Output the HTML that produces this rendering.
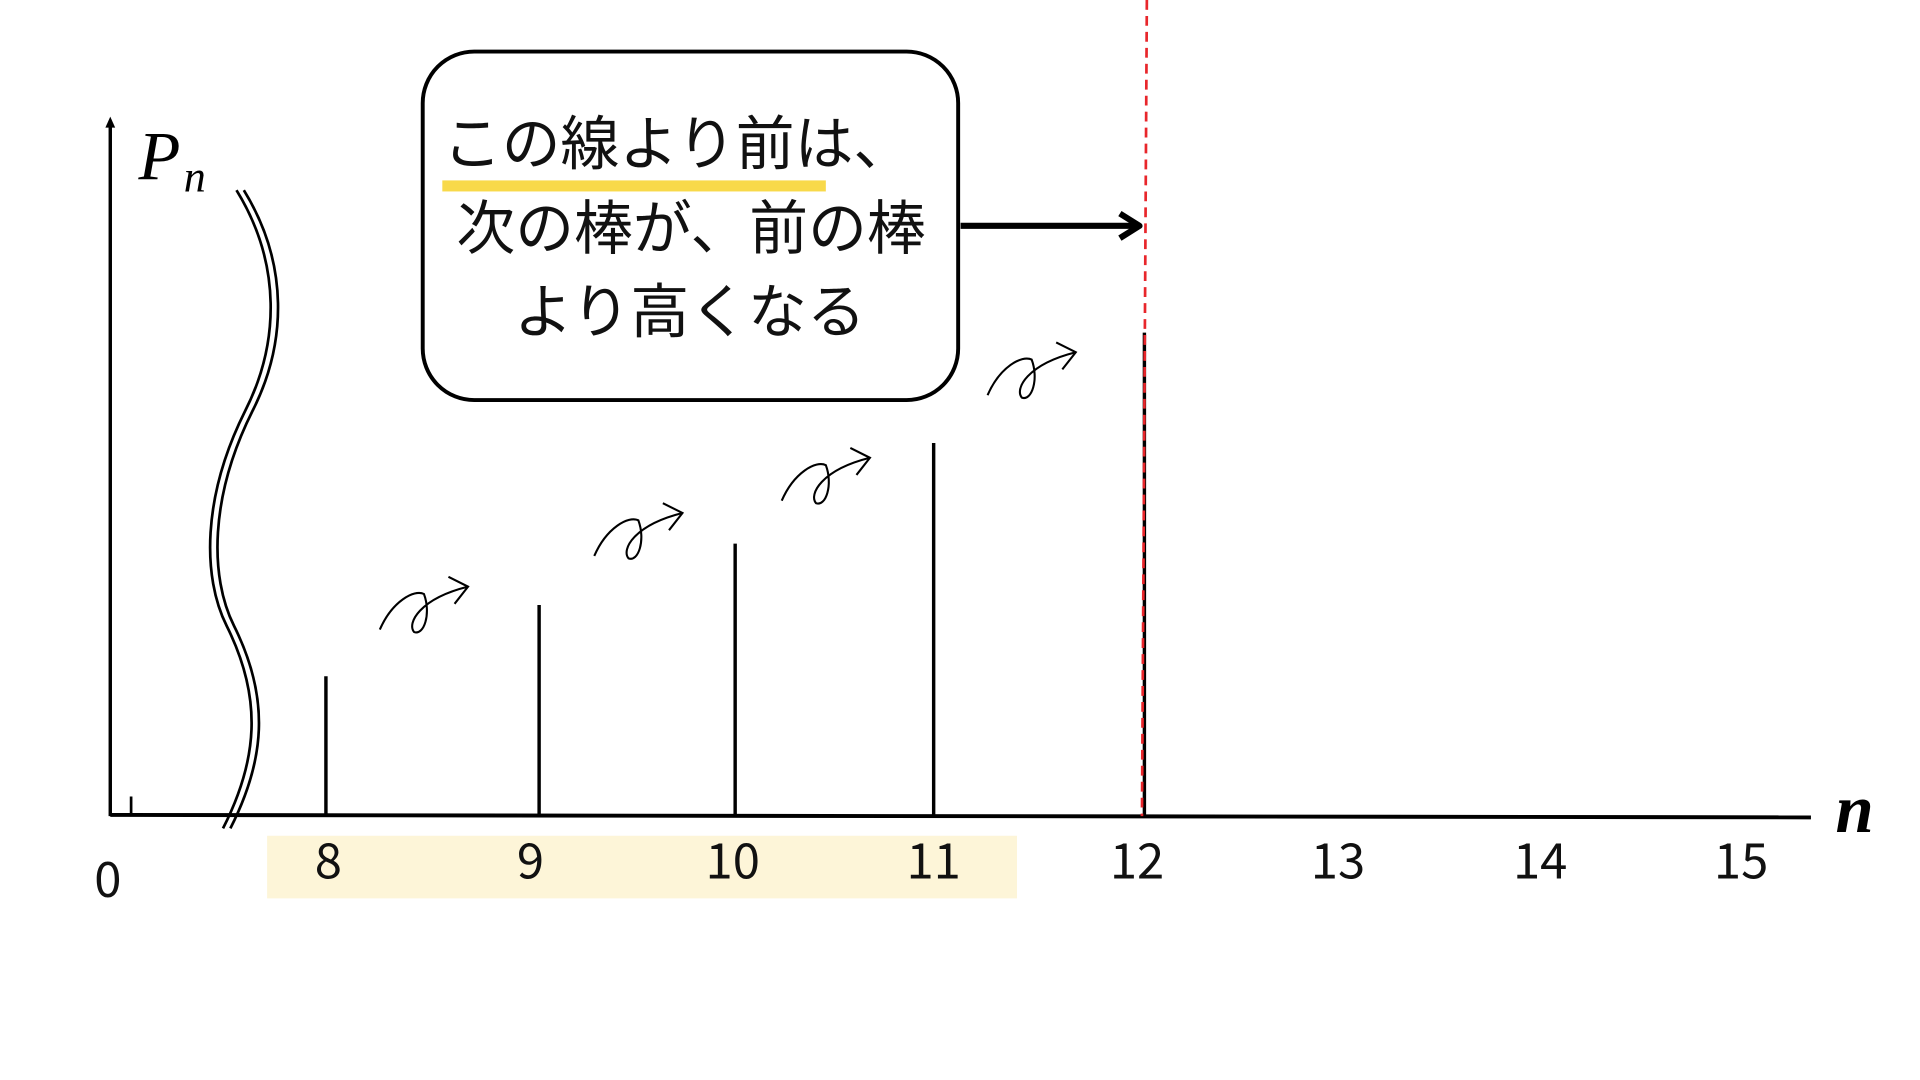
<!DOCTYPE html>
<html><head><meta charset="utf-8"><style>
html,body{margin:0;padding:0;background:#fff;}
svg{display:block;}
.j{font-family:"Liberation Sans","Noto Sans CJK JP",sans-serif;}
.n{font-family:"Noto Sans CJK JP","Liberation Sans",sans-serif;font-size:40px;fill:#111;text-anchor:middle;}
</style></head><body>
<svg width="1920" height="1080" viewBox="0 0 1567 880" preserveAspectRatio="none" xmlns="http://www.w3.org/2000/svg">
<rect x="218" y="681" width="612" height="51" fill="#fdf5d8"/>
<line x1="90" y1="665" x2="90" y2="100" stroke="#000" stroke-width="2.8"/>
<path d="M86,104 L90,95 L94,104 Z" fill="#000"/>
<line x1="90" y1="664" x2="1478" y2="666" stroke="#000" stroke-width="3.2"/>
<line x1="107" y1="664" x2="107" y2="649" stroke="#000" stroke-width="2.2"/>
<g stroke="#000" stroke-width="2.8">
<line x1="266" y1="664" x2="266" y2="551"/>
<line x1="440" y1="664" x2="440" y2="493"/>
<line x1="600" y1="664" x2="600" y2="443"/>
<line x1="762" y1="664" x2="762" y2="361"/>
<line x1="934" y1="664" x2="934" y2="271"/>
</g>
<line x1="936" y1="0" x2="932" y2="665" stroke="#e8262b" stroke-width="2.2" stroke-dasharray="8,5"/>
<g fill="none" stroke="#000" stroke-width="2.2">
<path d="M193,155 C230,215 228,280 200,335 C165,405 165,470 185,510 C215,570 210,620 182,675"/>
<path d="M199,155 C236,215 234,280 206,335 C171,405 171,470 191,510 C221,570 216,620 188,675"/>
</g>
<rect x="345" y="42" width="437" height="284" rx="42" ry="42" fill="#fff" stroke="#000" stroke-width="3.2"/>
<rect x="361" y="147" width="313" height="9" fill="#f8d94a"/>
<text class="j" x="553" y="134" font-size="48" text-anchor="middle" fill="#111">この線より前は、</text>
<text class="j" x="564" y="203" font-size="48" text-anchor="middle" fill="#111">次の棒が、前の棒</text>
<text class="j" x="563" y="271" font-size="48" text-anchor="middle" fill="#111">より高くなる</text>
<line x1="784" y1="184" x2="926" y2="184" stroke="#000" stroke-width="5"/>
<path d="M914,174 L930,184 L914,194" fill="none" stroke="#000" stroke-width="5" stroke-linejoin="round"/>
<defs><g id="c" fill="none" stroke="#000" stroke-width="1.7">
<path d="M310,513 C320,490 338,480 346,484 C352,500 346,518 338,515 C332,508 342,488 382,478"/>
<path d="M366,470 L382,478 L371,492"/>
</g></defs>
<use href="#c"/>
<use href="#c" transform="translate(175,-60)"/>
<use href="#c" transform="translate(328,-105)"/>
<use href="#c" transform="translate(496,-191)"/>
<text x="113" y="146" font-family="Liberation Serif,serif" font-style="italic" font-size="56" fill="#000">P</text>
<text x="150" y="156" font-family="Liberation Serif,serif" font-style="italic" font-size="36" fill="#000">n</text>
<text x="1498" y="678" font-family="Liberation Serif,serif" font-style="italic" font-weight="bold" font-size="56" fill="#000">n</text>
<text class="n" x="88" y="731">0</text>
<text class="n" x="268" y="716">8</text>
<text class="n" x="433" y="716">9</text>
<text class="n" x="598" y="716">10</text>
<text class="n" x="762" y="716">11</text>
<text class="n" x="928" y="716">12</text>
<text class="n" x="1092" y="716">13</text>
<text class="n" x="1257" y="716">14</text>
<text class="n" x="1421" y="716">15</text>
</svg>
</body></html>
